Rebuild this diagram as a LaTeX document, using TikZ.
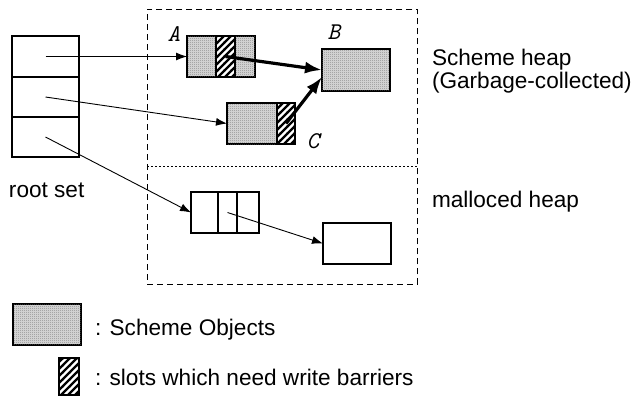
\documentclass[tikz,border=0pt]{standalone}
\usepackage{fontspec}
\setmainfont{Liberation Sans}
\usetikzlibrary{arrows.meta,patterns}
\pgfdeclarepatternformonly{hatchwide}{\pgfqpoint{-1pt}{-1pt}}{\pgfqpoint{8pt}{8pt}}{\pgfqpoint{7pt}{7pt}}{%
  \pgfsetlinewidth{2.3pt}%
  \pgfpathmoveto{\pgfqpoint{-1pt}{-1pt}}\pgfpathlineto{\pgfqpoint{8pt}{8pt}}\pgfusepath{stroke}}
\pgfdeclarepatternformonly{stipple}{\pgfpointorigin}{\pgfqpoint{2pt}{2pt}}{\pgfqpoint{2pt}{2pt}}{%
  \pgfpathrectangle{\pgfpointorigin}{\pgfqpoint{1pt}{1pt}}\pgfusepath{fill}}
\begin{document}
\begin{tikzpicture}[x=1pt,y=-1pt,
  box/.style={draw,line width=1.1pt,rectangle,inner sep=0,outer sep=0,anchor=north west},
  gc/.style={box,fill=black!18,postaction={pattern=stipple,pattern color=black!58}},
  slot/.style={box,fill=white,postaction={pattern=hatchwide,pattern color=black}},
  txt/.style={inner sep=0,outer sep=0,anchor=base west,font=\fontsize{22.6}{23}\selectfont},
  lbl/.style={inner sep=0,outer sep=0,anchor=base,font=\ttfamily\itshape\fontsize{24}{24}\selectfont},
  thin/.style={line width=0.9pt,-{Latex[length=11pt,width=8pt]}},
  thick/.style={line width=3.2pt,-{Latex[length=17pt,width=12pt]}}]
\useasboundingbox (0,0) rectangle (633,400);
% heap region
\node[draw,dash pattern=on 6pt off 4pt,line width=0.9pt,rectangle,inner sep=0,anchor=north west,minimum width=270pt,minimum height=275pt] (heap) at (147,9) {};
\coordinate (divy) at (0,166);
\draw[line width=0.9pt,dash pattern=on 2pt off 2pt] (heap.west |- divy) -- (heap.east |- divy);
% root set
\node[box,minimum width=67pt,minimum height=41pt] (rs1) at (12,36) {};
\node[box,minimum width=67pt,minimum height=40pt] (rs2) at (12,77) {};
\node[box,minimum width=67pt,minimum height=40pt] (rs3) at (12,117) {};
\node[txt] (rstxt) at (9,197) {root set};
% scheme objects
\node[gc,minimum width=68pt,minimum height=41pt] (A) at (187,36) {};
\node[slot,minimum width=19pt,minimum height=41pt] (As) at (216,36) {};
\node[gc,minimum width=68pt,minimum height=42pt] (B) at (322,49) {};
\node[gc,minimum width=68pt,minimum height=41pt] (C) at (227,103) {};
\node[slot,minimum width=18pt,minimum height=41pt] (Cs) at (277,103) {};
\node[lbl] (la) at (174,41) {A};
\node[lbl] (lb) at (334,39) {B};
\node[lbl] (lc) at (313,148) {C};
% malloced objects
\node[box,minimum width=27pt,minimum height=41pt] (d1) at (191,192) {};
\node[box,minimum width=19pt,minimum height=41pt] (d2) at (218,192) {};
\node[box,minimum width=22pt,minimum height=41pt] (d3) at (237,192) {};
\node[box,minimum width=68pt,minimum height=41pt] (E) at (323,223) {};
% labels
\node[txt] (sh1) at (432,65) {Scheme heap};
\node[txt] (sh2) at (432,88) {(Garbage-collected)};
\node[txt] (mh) at (432,207) {malloced heap};
% connectors
\draw[thin] (rs1.center) -- (A.west);
\draw[thin] (rs2.center) -- (C.west);
\draw[thin] (rs3.center) -- (d1.west);
\draw[thin] (d2.center) -- (E.west);
\draw[thick] (As.center) -- (B.west);
\draw[thick] (Cs.center) -- ([yshift=-7pt]B.west);
% legend
\node[gc,minimum width=68pt,minimum height=41pt] (L1) at (13,304) {};
\node[slot,minimum width=20pt,minimum height=37pt] (L2) at (59,358) {};
\node[txt] (lt1) at (95,335) {: Scheme Objects};
\node[txt] (lt2) at (95,385) {: slots which need write barriers};
\end{tikzpicture}
\end{document}
